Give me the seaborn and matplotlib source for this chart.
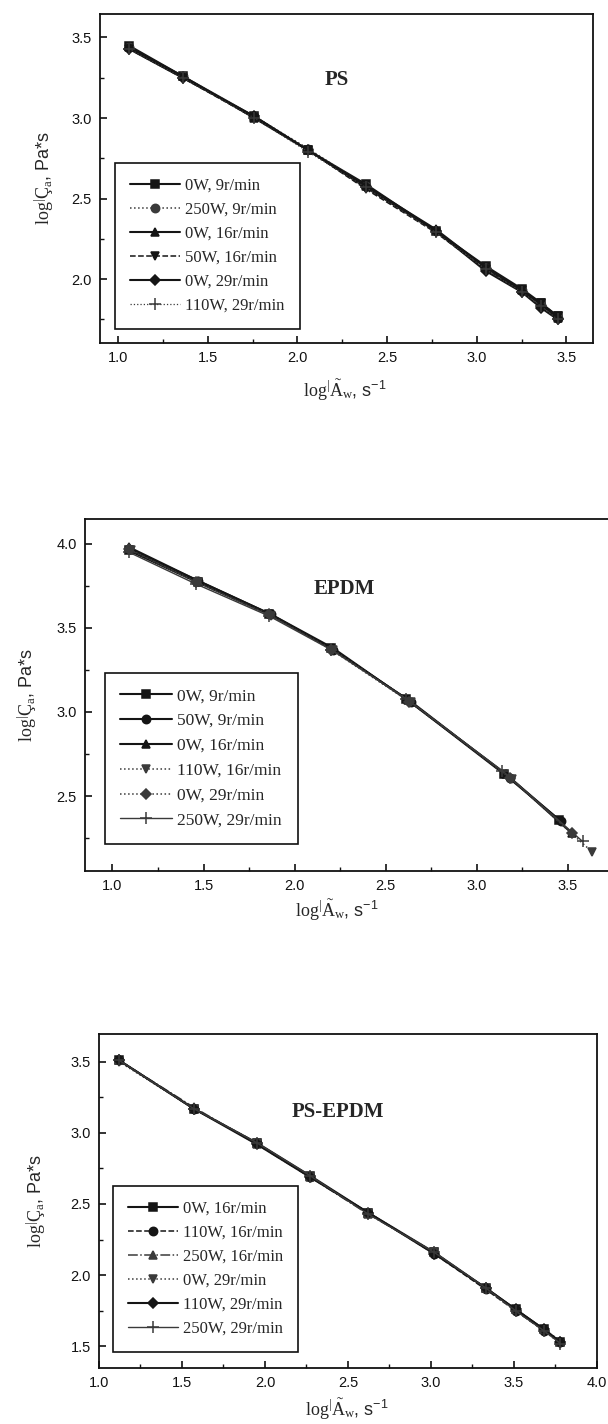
import matplotlib
matplotlib.use("Agg")
import matplotlib.pyplot as plt
from matplotlib.ticker import MultipleLocator, FormatStrFormatter
import seaborn as sns

sns.set_theme(style="ticks")
plt.rcParams["font.family"] = ["Liberation Sans", "DejaVu Sans"]
plt.rcParams["mathtext.fontset"] = "custom"
plt.rcParams["mathtext.rm"] = "Liberation Serif"
plt.rcParams["mathtext.it"] = "Liberation Serif:italic"
plt.rcParams["mathtext.sf"] = "Liberation Sans"

# ---------------- PS ----------------
ps_labels = ["0W, 9r/min", "250W, 9r/min", "0W, 16r/min",
             "50W, 16r/min", "0W, 29r/min", "110W, 29r/min"]
ps_x = [1.06, 1.36, 1.76, 2.06, 2.38, 2.77, 3.05, 3.25, 3.36, 3.45]
ps_0w_9 = [3.45, 3.26, 3.01, 2.80, 2.59, 2.30, 2.08, 1.94, 1.85, 1.77]
ps_250w_9 = [3.44, 3.26, 3.01, 2.81, 2.58, 2.30, 2.07, 1.93, 1.84, 1.76]
ps_0w_16 = [3.44, 3.26, 3.00, 2.80, 2.58, 2.31, 2.07, 1.93, 1.84, 1.76]
ps_50w_16 = [3.43, 3.25, 3.00, 2.80, 2.56, 2.29, 2.06, 1.93, 1.85, 1.77]
ps_0w_29 = [3.43, 3.25, 3.01, 2.80, 2.57, 2.30, 2.05, 1.92, 1.82, 1.75]
ps_110w_29 = [3.43, 3.25, 3.00, 2.79, 2.57, 2.29, 2.06, 1.92, 1.83, 1.75]

# ---------------- EPDM ----------------
epdm_labels = ["0W, 9r/min", "50W, 9r/min", "0W, 16r/min",
               "110W, 16r/min", "0W, 29r/min", "250W, 29r/min"]
epdm_x_0w_9 = [1.09, 1.47, 1.86, 2.20, 2.61, 3.15, 3.45]
epdm_y_0w_9 = [3.96, 3.77, 3.58, 3.38, 3.08, 2.63, 2.36]
epdm_x_50w_9 = [1.09, 1.47, 1.87, 2.21, 2.64, 3.18, 3.46]
epdm_y_50w_9 = [3.97, 3.78, 3.58, 3.37, 3.06, 2.61, 2.35]
epdm_x_0w_16 = [1.09, 1.47, 1.87, 2.21, 2.62, 3.16, 3.52]
epdm_y_0w_16 = [3.98, 3.78, 3.58, 3.38, 3.07, 2.63, 2.28]
epdm_x_110w_16 = [1.10, 1.47, 1.87, 2.21, 2.64, 3.19, 3.63]
epdm_y_110w_16 = [3.96, 3.77, 3.57, 3.37, 3.06, 2.60, 2.17]
epdm_x_0w_29 = [1.09, 1.46, 1.86, 2.20, 2.63, 3.18, 3.52]
epdm_y_0w_29 = [3.97, 3.77, 3.58, 3.37, 3.06, 2.61, 2.28]
epdm_x_250w_29 = [1.09, 1.46, 1.86, 2.20, 2.61, 3.14, 3.58]
epdm_y_250w_29 = [3.95, 3.76, 3.57, 3.37, 3.08, 2.65, 2.23]

# ---------------- PS-EPDM ----------------
blend_labels = ["0W, 16r/min", "110W, 16r/min", "250W, 16r/min",
                "0W, 29r/min", "110W, 29r/min", "250W, 29r/min"]
blend_x = [1.12, 1.57, 1.95, 2.27, 2.62, 3.02, 3.33, 3.51, 3.68, 3.78]
blend_0w_16 = [3.51, 3.17, 2.93, 2.70, 2.44, 2.16, 1.91, 1.76, 1.62, 1.53]
blend_110w_16 = [3.51, 3.17, 2.93, 2.69, 2.44, 2.15, 1.90, 1.75, 1.61, 1.53]
blend_250w_16 = [3.51, 3.18, 2.92, 2.69, 2.43, 2.16, 1.91, 1.76, 1.62, 1.54]
blend_0w_29 = [3.50, 3.17, 2.93, 2.69, 2.44, 2.16, 1.90, 1.75, 1.61, 1.52]
blend_110w_29 = [3.51, 3.17, 2.92, 2.69, 2.44, 2.15, 1.91, 1.76, 1.62, 1.53]
blend_250w_29 = [3.51, 3.17, 2.93, 2.70, 2.43, 2.16, 1.91, 1.75, 1.61, 1.52]

markers = ["s", "o", "^", "v", "D", "+"]

XLABEL = r"$\mathrm{log}^{|}\mathrm{\tilde{A}}_{\mathrm{w}}$, s$^{\mathsf{-1}}$"
YLABEL = r"$\mathrm{log}^{|}\mathrm{Ç}_{\mathrm{a}}$, $\mathsf{Pa{*}s}$"

fig = plt.figure(figsize=(6.08, 14.24), dpi=100)


def draw_panel(ax, series, labels, styles, title, title_xy):
    for (xs, ys), lab, mk, (ls, lw, col) in zip(series, labels, markers, styles):
        ms = 8 if mk == "+" else (5.5 if mk == "D" else 6.0)
        sns.lineplot(x=xs, y=ys, ax=ax, sort=False, estimator=None,
                     color=col, linestyle=ls, linewidth=lw,
                     marker=mk, markersize=ms, markeredgewidth=1.1,
                     markeredgecolor=col, markerfacecolor=col, label=lab)
    ax.text(*title_xy, title, transform=ax.transAxes, ha="center", va="center",
            fontsize=15, fontweight="bold", family="Liberation Serif")
    for side in ["left", "right", "top", "bottom"]:
        ax.spines[side].set_visible(True)
        ax.spines[side].set_linewidth(1.3)
        ax.spines[side].set_color("#111111")
    ax.tick_params(which="both", direction="in", top=False, right=False,
                   labelsize=10.5, colors="#111111", pad=6)
    ax.tick_params(which="major", length=5, width=1.2)
    ax.tick_params(which="minor", length=3, width=1.0)
    ax.xaxis.set_major_locator(MultipleLocator(0.5))
    ax.xaxis.set_minor_locator(MultipleLocator(0.25))
    ax.yaxis.set_major_locator(MultipleLocator(0.5))
    ax.yaxis.set_minor_locator(MultipleLocator(0.25))
    ax.xaxis.set_major_formatter(FormatStrFormatter("%.1f"))
    ax.yaxis.set_major_formatter(FormatStrFormatter("%.1f"))
    ax.set_xlabel(XLABEL, fontsize=13)
    ax.set_ylabel(YLABEL, fontsize=13)


def place_legend(ax, anchor, fs, spacing):
    leg = ax.legend(loc="upper left", bbox_to_anchor=anchor, borderaxespad=0,
                    frameon=True, fancybox=False, edgecolor="#111111",
                    handlelength=3.0, handletextpad=0.3, labelspacing=spacing,
                    borderpad=0.9, prop={"family": "Liberation Serif", "size": fs})
    leg.get_frame().set_linewidth(1.2)
    leg.get_frame().set_facecolor("white")
    leg.get_frame().set_alpha(1)


def place_labels(ax, xl, yl):
    ax.xaxis.set_label_coords(*xl)
    ax.xaxis.label.set_va("center")
    ax.yaxis.set_label_coords(*yl)
    ax.yaxis.label.set_va("center")


K = "#151515"
G = "#3a3a3a"

# PS panel
ax1 = fig.add_axes([0.1645, 0.7591, 0.8109, 0.2310])
draw_panel(ax1,
           [(ps_x, ps_0w_9), (ps_x, ps_250w_9), (ps_x, ps_0w_16),
            (ps_x, ps_50w_16), (ps_x, ps_0w_29), (ps_x, ps_110w_29)],
           ps_labels,
           [("-", 1.5, K), (":", 1.1, G), ("-", 1.5, K),
            ("--", 1.1, K), ("-", 1.5, K), (":", 0.9, G)],
           "PS", (0.48, 0.80))
ax1.set_xlim(0.9, 3.648)
ax1.set_ylim(1.603, 3.645)
place_legend(ax1, (0.031, 0.548), 12, 0.48)
place_labels(ax1, (0.497, -0.143), (-0.114, 0.5))

# EPDM panel
ax2 = fig.add_axes([0.1403, 0.3883, 0.8800, 0.2472])
draw_panel(ax2,
           [(epdm_x_0w_9, epdm_y_0w_9), (epdm_x_50w_9, epdm_y_50w_9),
            (epdm_x_0w_16, epdm_y_0w_16), (epdm_x_110w_16, epdm_y_110w_16),
            (epdm_x_0w_29, epdm_y_0w_29), (epdm_x_250w_29, epdm_y_250w_29)],
           epdm_labels,
           [("-", 1.5, K), ("-", 1.5, K), ("-", 1.5, K),
            (":", 1.1, G), (":", 1.1, G), ("-", 1.0, G)],
           "EPDM", (0.485, 0.80))
ax2.set_xlim(0.851, 3.787)
ax2.set_ylim(2.054, 4.147)
place_legend(ax2, (0.036, 0.564), 12.5, 0.5)
place_labels(ax2, (0.47, -0.111), (-0.108, 0.5))

# PS-EPDM panel
ax3 = fig.add_axes([0.1628, 0.0393, 0.8191, 0.2346])
draw_panel(ax3,
           [(blend_x, blend_0w_16), (blend_x, blend_110w_16), (blend_x, blend_250w_16),
            (blend_x, blend_0w_29), (blend_x, blend_110w_29), (blend_x, blend_250w_29)],
           blend_labels,
           [("-", 1.5, K), ("--", 1.1, K), ("-.", 1.1, G),
            (":", 1.1, G), ("-", 1.5, K), ("-", 1.0, G)],
           "PS-EPDM", (0.48, 0.765))
ax3.set_xlim(1.0, 4.0)
ax3.set_ylim(1.348, 3.694)
place_legend(ax3, (0.028, 0.545), 12, 0.48)
place_labels(ax3, (0.498, -0.125), (-0.125, 0.5))

fig.savefig("out.png", dpi=100, facecolor="white")
